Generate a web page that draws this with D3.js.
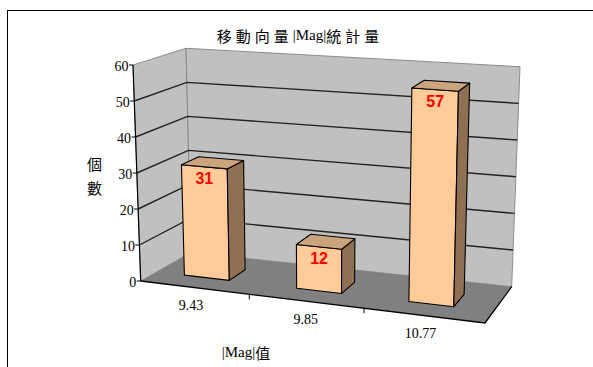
<!DOCTYPE html>
<html>
<head>
<meta charset="utf-8">
<script src="https://cdn.jsdelivr.net/npm/d3@7"></script>
<style>
  body { margin: 0; background: #fff; }
  svg { display: block; }
</style>
</head>
<body>
<script>
// Data
const categories = ["9.43", "9.85", "10.77"];
const counts = [31, 12, 57];
const valueTicks = [0, 10, 20, 30, 40, 50, 60];

const W = 593, H = 367;
const serif = "'Liberation Serif', 'DejaVu Serif', 'Times New Roman', serif";
const svg = d3.select("body").append("svg").attr("width", W).attr("height", H);

// Chart area frame
svg.append("rect")
  .attr("x", 7.5).attr("y", 10.5).attr("width", W).attr("height", H)
  .attr("fill", "#fff").attr("stroke", "#000").attr("stroke-width", 1);

// Perspective box: corners of the plot cube (u = category axis, v = value, z = depth)
const FL0 = [140.7, 281], FR0 = [485, 323], BL0 = [191, 252.5], BR0 = [511.7, 286.7];
const FL1 = [133, 65],   FR1 = [490.6, 90], BL1 = [186, 48.3],  BR1 = [520, 66.7];

const lerp = (a, b, t) => [a[0] + (b[0] - a[0]) * t, a[1] + (b[1] - a[1]) * t];
function proj(u, v, z) {
  const bottom = lerp(lerp(FL0, FR0, u), lerp(BL0, BR0, u), z);
  const top = lerp(lerp(FL1, FR1, u), lerp(BL1, BR1, u), z);
  return lerp(bottom, top, v);
}

const y = d3.scaleLinear().domain([0, 60]).range([0, 1]);
const x = d3.scaleBand().domain(categories).range([-0.018, 0.982])
  .paddingInner(0.6).paddingOuter(0.3);

const line = d3.line();
const poly = pts => line(pts) + "Z";

// Walls and floor
const g = svg.append("g");
g.append("path")
  .attr("d", poly([proj(0, 0, 0), proj(0, 1, 0), proj(0, 1, 1), proj(0, 0, 1)]))
  .attr("fill", "#c0c0c0").attr("stroke", "#8c8c8c").attr("stroke-width", 1);
g.append("path")
  .attr("d", poly([proj(0, 0, 1), proj(0, 1, 1), proj(1, 1, 1), proj(1, 0, 1)]))
  .attr("fill", "#c0c0c0").attr("stroke", "#8c8c8c").attr("stroke-width", 1);
g.append("path")
  .attr("d", poly([proj(0, 0, 0), proj(1, 0, 0), proj(1, 0, 1), proj(0, 0, 1)]))
  .attr("fill", "#808080").attr("stroke", "none");

// Gridlines across the side and back walls
g.selectAll(".grid")
  .data(valueTicks.filter(t => t > 0 && t < 60))
  .join("path")
  .attr("class", "grid")
  .attr("d", t => line([proj(0, y(t), 0), proj(0, y(t), 1), proj(1, y(t), 1)]))
  .attr("fill", "none").attr("stroke", "#222").attr("stroke-width", 1.4);

// Value axis line, ticks and labels
g.append("path").attr("d", line([proj(0, 0, 0), proj(0, 1, 0)]))
  .attr("stroke", "#000").attr("stroke-width", 1.2);
valueTicks.forEach(t => {
  const p = proj(0, y(t), 0);
  g.append("line").attr("x1", p[0] - 4).attr("x2", p[0]).attr("y1", p[1]).attr("y2", p[1])
    .attr("stroke", "#000");
  g.append("text").attr("x", p[0] - 4.5).attr("y", p[1] + 1)
    .attr("text-anchor", "end").attr("dominant-baseline", "central")
    .attr("font-family", serif)
    .attr("font-size", 14).attr("fill", "#000").text(t);
});

// Category axis: front edge of floor, right floor edge, ticks and labels
g.append("path").attr("d", line([proj(0, 0, 0), proj(1, 0, 0), proj(1, 0, 1)]))
  .attr("fill", "none").attr("stroke", "#000").attr("stroke-width", 1.3);
categories.slice(1).forEach(c => {
  const u = x(c) - x.step() * x.paddingInner() / 2;
  const p = proj(u, 0, 0);
  g.append("line").attr("x1", p[0]).attr("x2", p[0]).attr("y1", p[1]).attr("y2", p[1] + 5)
    .attr("stroke", "#000");
});
categories.forEach(c => {
  const p = proj(x(c) + x.bandwidth() / 2, 0, 0);
  g.append("text").attr("x", p[0] - 1).attr("y", p[1] + 18)
    .attr("text-anchor", "middle").attr("dominant-baseline", "central")
    .attr("font-family", serif)
    .attr("font-size", 14).attr("fill", "#000").text(c);
});

// Bars (front, right side, top)
const z0 = 0.32, z1 = 0.67;
const bars = g.selectAll(".bar").data(categories.map((c, i) => ({ c, v: counts[i] })))
  .join("g").attr("class", "bar");
bars.each(function (d) {
  const u0 = x(d.c), u1 = x(d.c) + x.bandwidth(), v1 = y(d.v);
  const b = d3.select(this);
  b.append("path")
    .attr("d", poly([proj(u0, 0, z0), proj(u1, 0, z0), proj(u1, v1, z0), proj(u0, v1, z0)]))
    .attr("fill", "#ffcc99").attr("stroke", "#000").attr("stroke-width", 1.1).attr("stroke-linejoin", "round");
  b.append("path")
    .attr("d", poly([proj(u1, 0, z0), proj(u1, 0, z1), proj(u1, v1, z1), proj(u1, v1, z0)]))
    .attr("fill", "#8f7052").attr("stroke", "#000").attr("stroke-width", 1.1).attr("stroke-linejoin", "round");
  b.append("path")
    .attr("d", poly([proj(u0, v1, z0), proj(u1, v1, z0), proj(u1, v1, z1), proj(u0, v1, z1)]))
    .attr("fill", "#cba47c").attr("stroke", "#000").attr("stroke-width", 1.1).attr("stroke-linejoin", "round");
  const p = proj((u0 + u1) / 2, v1, z0);
  b.append("text").attr("x", p[0]).attr("y", p[1] + 12)
    .attr("text-anchor", "middle").attr("dominant-baseline", "central")
    .attr("font-family", "'Liberation Sans', Arial, sans-serif").attr("font-weight", "bold")
    .attr("font-size", 16).attr("fill", "#ff0000").text(d.v);
});

// Titles
const title = svg.append("text").attr("x", 300).attr("y", 35)
  .attr("text-anchor", "middle").attr("dominant-baseline", "central")
  .attr("font-family", serif + ", 'Noto Sans CJK TC'")
  .attr("font-size", 15).attr("fill", "#000");
title.append("tspan").attr("font-family", "'Noto Sans CJK TC', sans-serif").attr("letter-spacing", 4).text("移動向量");
title.append("tspan").text("|Mag|");
title.append("tspan").attr("font-family", "'Noto Sans CJK TC', sans-serif").attr("letter-spacing", 4).text("統計量");

svg.append("text").attr("x", 94.6).attr("y", 163)
  .attr("text-anchor", "middle").attr("dominant-baseline", "central")
  .attr("font-family", "'Noto Sans CJK TC', sans-serif").attr("font-size", 15).text("個");
svg.append("text").attr("x", 94.6).attr("y", 187)
  .attr("text-anchor", "middle").attr("dominant-baseline", "central")
  .attr("font-family", "'Noto Sans CJK TC', sans-serif").attr("font-size", 15).text("數");

const xTitle = svg.append("text").attr("x", 246).attr("y", 351.5)
  .attr("text-anchor", "middle").attr("dominant-baseline", "central")
  .attr("font-family", serif)
  .attr("font-size", 15).attr("fill", "#000");
xTitle.append("tspan").text("|Mag|");
xTitle.append("tspan").attr("font-family", "'Noto Sans CJK TC', sans-serif").text("值");
</script>
</body>
</html>
